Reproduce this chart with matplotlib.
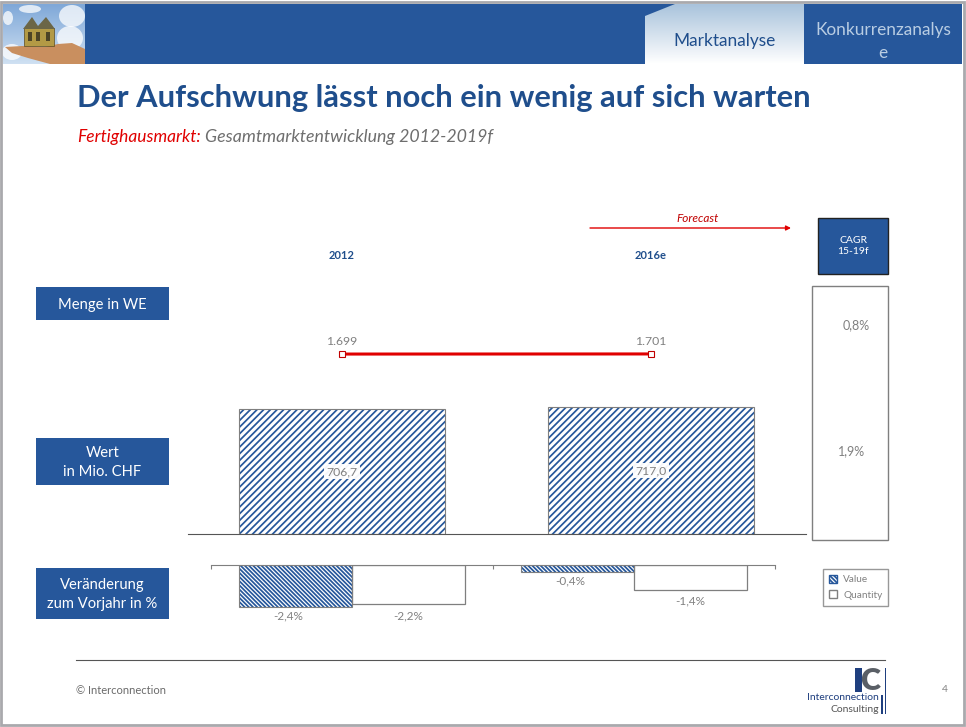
import matplotlib
matplotlib.use('Agg')
import matplotlib.pyplot as plt
import numpy as np
from matplotlib.patches import Polygon, Rectangle, Ellipse, Patch

plt.rcParams['font.family'] = ['Lato', 'DejaVu Sans']
plt.rcParams['hatch.linewidth'] = 1.25

W, H = 966, 727
BLUE = '#26579b'
NAVY = '#1f4e8c'
GREY = '#7f7f7f'
TXT = '#808080'

# data
years = ['2012', '2016e']
quantity = [1699, 1701]
quantity_labels = ['1.699', '1.701']
value = [706.7, 717.0]
value_labels = ['706,7', '717,0']
value_change = [-2.4, -0.4]
quantity_change = [-2.2, -1.4]
cagr_labels = ['0,8%', '1,9%']
row_labels = ['Menge in WE', 'Wert\nin Mio. CHF', 'Veränderung\nzum Vorjahr in %']


def px_axes(x0, y0, x1, y1):
    # axes placed by pixel box, y counted from the top
    a = fig.add_axes([x0 / W, 1 - y1 / H, (x1 - x0) / W, (y1 - y0) / H])
    a.patch.set_alpha(0)
    return a


fig = plt.figure(figsize=(9.66, 7.27), dpi=100, facecolor='white')

# page furniture, in pixels
bg = fig.add_axes([0, 0, 1, 1])
bg.set_xlim(0, W)
bg.set_ylim(H, 0)
bg.axis('off')

bg.add_patch(Rectangle((1, 1.5), W - 3, H - 3.5, fc='none', ec='#a9a9ad', lw=2))
bg.add_patch(Rectangle((85, 4), 877, 60, fc=BLUE, ec='none'))

# tab with gradient
grad = np.linspace(0, 1, 60).reshape(-1, 1)
img = bg.imshow(grad, extent=(645, 804, 64, 4), aspect='auto', zorder=2,
                cmap=matplotlib.colors.LinearSegmentedColormap.from_list('t', ['#a9c3dc', '#ffffff']))
tab = Polygon([(645, 64), (645, 16), (675, 4), (804, 4), (804, 64)], transform=bg.transData, fc='none', ec='none')
bg.add_patch(tab)
img.set_clip_path(tab)

# logo picture
sky = bg.imshow(np.linspace(0, 1, 60).reshape(-1, 1), extent=(3, 85, 64, 4), aspect='auto', zorder=2,
                cmap=matplotlib.colors.LinearSegmentedColormap.from_list('s', ['#7fa8d8', '#cfe0f2']))
bg.set_xlim(0, W)
bg.set_ylim(H, 0)
logo_box = Rectangle((3, 4), 82, 60, transform=bg.transData, fc='none', ec='none')
bg.add_patch(logo_box)
for cx, cy, w, h in [(72, 16, 26, 22), (12, 52, 20, 16), (70, 38, 26, 24), (30, 9, 22, 8), (8, 18, 10, 14)]:
    cl = Ellipse((cx, cy), w, h, fc='white', ec='none', alpha=0.75, zorder=3)
    bg.add_patch(cl)
    cl.set_clip_path(logo_box)
bg.add_patch(Polygon([(5, 47), (22, 46), (45, 47), (58, 44), (72, 43), (85, 49), (85, 64), (50, 64), (28, 58), (12, 53)],
                     fc='#c98f5f', ec='none', zorder=4))
bg.add_patch(Rectangle((24, 28), 30, 18, fc='#b39a45', ec='#5a4a20', lw=0.5, zorder=5))
for x0 in [28, 36, 46]:
    bg.add_patch(Rectangle((x0, 32), 4, 9, fc='#4d4426', ec='none', zorder=6))
bg.add_patch(Polygon([(23, 29), (32, 17), (38, 26), (46, 17), (55, 29)], fc='#6b6647', ec='none', zorder=5))

bg.text(724.5, 41, 'Marktanalyse', color=NAVY, fontsize=12.4, ha='center', va='center', zorder=6)
bg.text(883, 30, 'Konkurrenzanalys', color='#b9cde3', fontsize=12.4, ha='center', va='center', zorder=6)
bg.text(883, 53, 'e', color='#b9cde3', fontsize=12.4, ha='center', va='center', zorder=6)

bg.text(77, 98, 'Der Aufschwung lässt noch ein wenig auf sich warten', color=NAVY,
        fontsize=22.2, fontweight='bold', ha='left', va='center')
bg.text(77, 137, 'Fertighausmarkt:', color='#e00000', fontsize=12.5, style='italic', ha='left', va='center')
bg.text(205, 137, 'Gesamtmarktentwicklung 2012-2019f', color='#6e6e6e', fontsize=12.8, style='italic',
        ha='left', va='center')

# row labels
for label, (y0, y1) in zip(row_labels, [(287, 320), (438, 485), (568, 619)]):
    bg.add_patch(Rectangle((36, y0), 133, y1 - y0, fc=BLUE, ec='none'))
    bg.text(102.5, (y0 + y1) / 2 + 1, label, color='white', fontsize=10.6, ha='center', va='center', linespacing=1.5)

# forecast arrow
bg.annotate('', xy=(791, 228), xytext=(590, 228),
            arrowprops=dict(arrowstyle='-|>', color='#e00000', lw=1, mutation_scale=7, shrinkA=0, shrinkB=0))
bg.text(698, 218, 'Forecast', color='#c00000', fontsize=8.5, style='italic', ha='center', va='center')

# CAGR column
bg.add_patch(Rectangle((818, 218), 70, 56, fc=BLUE, ec='#222222', lw=1))
bg.text(853, 246, 'CAGR\n15-19f', color='white', fontsize=7.5, ha='center', va='center', linespacing=1.4)
bg.add_patch(Rectangle((812, 286), 76, 254, fc='white', ec=GREY, lw=1))
bg.text(856, 325, cagr_labels[0], color=TXT, fontsize=9, ha='center', va='center')
bg.text(852, 451, cagr_labels[1], color=TXT, fontsize=9, ha='center', va='center')

# footer
bg.plot([76, 885], [660, 660], color='#555555', lw=0.8)
bg.text(76, 690, '© Interconnection', color='#6a6a6a', fontsize=8, ha='left', va='center')
bg.text(945, 690, '4', color=TXT, fontsize=7.5, ha='center', va='center')
bg.add_patch(Rectangle((855, 668), 7, 24, fc='#1f3f7f', ec='none'))
bg.text(880, 681, 'C', color='#5a5f66', fontsize=22, fontweight='heavy', ha='right', va='center')
bg.add_patch(Rectangle((884.5, 668), 1.5, 46, fc='#1f3f7f', ec='none'))
bg.add_patch(Rectangle((881, 695), 1.5, 19, fc='#1f3f7f', ec='none'))
bg.text(879, 697, 'Interconnection', color='#1f3f7f', fontsize=7.5, ha='right', va='center')
bg.text(879, 709, 'Consulting', color='#555555', fontsize=7.5, ha='right', va='center')

# quantity line
ax_q = px_axes(187.5, 265, 805.5, 443)
pos = np.arange(len(years))
ax_q.plot(pos, quantity, color='#e00000', lw=2.2, marker='s', ms=4.5, mfc='white', mec='#c00000', mew=0.8)
ax_q.set_xlim(-0.5, 1.5)
ax_q.set_ylim(0, 3400)
for s in ax_q.spines.values():
    s.set_visible(False)
ax_q.set_yticks([])
ax_q.set_xticks(pos, years)
ax_q.tick_params(axis='x', length=0, labelbottom=False, labeltop=True, top=False, bottom=False, pad=3,
                 labelcolor=NAVY, labelsize=8)
for lab in ax_q.get_xticklabels():
    lab.set_fontweight('bold')
for x, y, s in zip(pos, quantity, quantity_labels):
    ax_q.annotate(s, (x, y), xytext=(0, 5), textcoords='offset points', ha='center', va='bottom',
                  color=TXT, fontsize=8.8)

# value bars
ax_v = px_axes(187.5, 400, 805.5, 534)
bars = ax_v.bar(pos, value, width=0.667, fc='white', ec=BLUE, hatch='/////', lw=0)
for b in bars:
    ax_v.add_patch(Rectangle(b.get_xy(), b.get_width(), b.get_height(), fc='none', ec=GREY, lw=0.8))
ax_v.set_xlim(-0.5, 1.5)
ax_v.set_ylim(0, 134 / 125 * 706.7)
ax_v.set_xticks([])
ax_v.set_yticks([])
for k in ['top', 'left', 'right']:
    ax_v.spines[k].set_visible(False)
ax_v.spines['bottom'].set_color('#555555')
ax_v.spines['bottom'].set_linewidth(0.8)
for x, y, s in zip(pos, value, value_labels):
    ax_v.text(x, y / 2, s, color=TXT, fontsize=8.8, ha='center', va='center',
              bbox=dict(fc='white', ec='none', pad=1.5, alpha=0.95))

# yearly change
ax_c = px_axes(211, 565, 775, 620)
w = 0.4
b1 = ax_c.bar(pos - w / 2, value_change, w, fc='white', ec=BLUE, hatch='\\' * 8, lw=0, label='Value')
b2 = ax_c.bar(pos + w / 2, quantity_change, w, fc='white', ec=GREY, lw=0.9, label='Quantity')
for b in b1:
    ax_c.add_patch(Rectangle(b.get_xy(), b.get_width(), b.get_height(), fc='none', ec=GREY, lw=0.8))
ax_c.set_xlim(-0.5, 1.5)
ax_c.set_ylim(-55 / 17.6, 0)
ax_c.set_yticks([])
ax_c.set_xticks([-0.5, 0.5, 1.5], ['', '', ''])
ax_c.tick_params(axis='x', direction='in', top=True, bottom=False, labelbottom=False, length=3, color=GREY, width=0.8)
for k in ['bottom', 'left', 'right']:
    ax_c.spines[k].set_visible(False)
ax_c.spines['top'].set_color(GREY)
for x, y in zip(pos - w / 2, value_change):
    ax_c.annotate(f'{y:.1f}%'.replace('.', ','), (x, y), xytext=(-5, -2.5), textcoords='offset points',
                  ha='center', va='top', color=TXT, fontsize=8.5)
for x, y in zip(pos + w / 2, quantity_change):
    ax_c.annotate(f'{y:.1f}%'.replace('.', ','), (x, y), xytext=(0, -4.5), textcoords='offset points',
                  ha='center', va='top', color=TXT, fontsize=8.5)

handles = [Patch(fc='white', ec=BLUE, hatch='\\' * 8, label='Value'),
           Patch(fc='white', ec=GREY, label='Quantity')]
fig.legend(handles=handles, loc='upper left', bbox_to_anchor=(823 / W, 1 - 569 / H), borderaxespad=0, fontsize=7.2,
           labelcolor=TXT, frameon=True, fancybox=False, edgecolor=GREY, handlelength=0.8, handleheight=0.8,
           handletextpad=0.6, labelspacing=0.6, borderpad=0.6)

fig.savefig('out.png', dpi=100)
